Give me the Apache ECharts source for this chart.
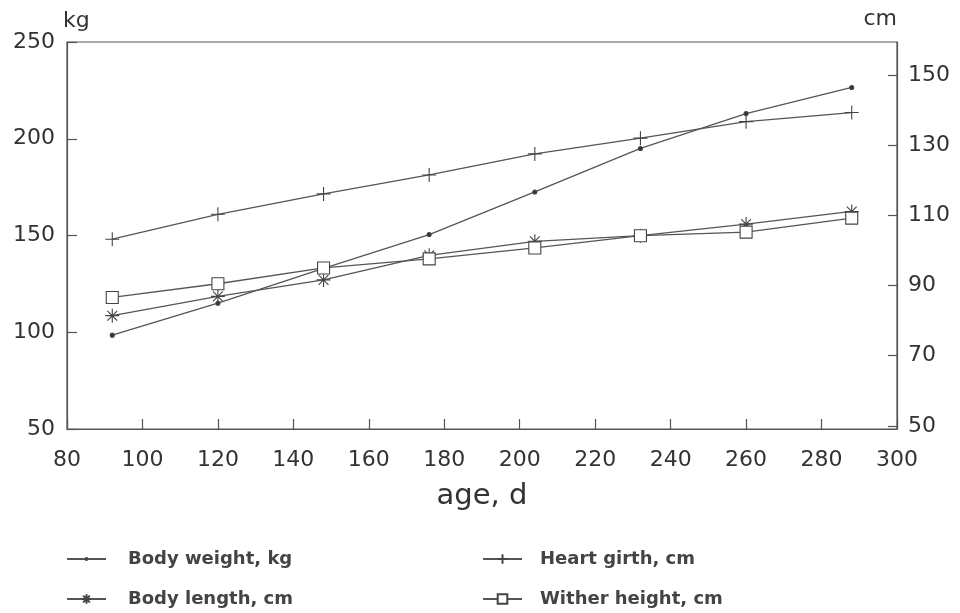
<!DOCTYPE html>
<html>
<head>
<meta charset="utf-8">
<script src="https://cdn.jsdelivr.net/npm/echarts@6/dist/echarts.min.js"></script>
<style>
html,body{margin:0;padding:0;background:#fff;}
#chart{width:960px;height:613px;}
</style>
</head>
<body>
<div id="chart"></div>
<script>
// ---- data ----
var ageDays = [92, 120, 148, 176, 204, 232, 260, 288];
var bodyWeightKg = [98.5, 115, 133, 150.5, 172.5, 195, 213, 226.5];
var heartGirthCm = [103.2, 110.3, 116.1, 121.5, 127.5, 132, 136.7, 139.3];
var bodyLengthCm = [81.4, 86.9, 91.6, 98.6, 102.6, 104.2, 107.5, 111.1];
var witherHeightCm = [86.6, 90.5, 95, 97.6, 100.7, 104.2, 105.2, 109.2];
var cmTicks = [50, 70, 90, 110, 130, 150];
var seriesNames = ['Body weight, kg', 'Heart girth, cm', 'Body length, cm', 'Wither height, cm'];

function pairs(xs, ys) { return xs.map(function (x, i) { return [x, ys[i]]; }); }

var LINE = '#555';
var TXT = '#333';
var FONT = 'DejaVu Sans';

// small dot inside a larger (invisible) bounding box so the legend dot stays small
var dotPath = 'path://M0,0M20,20M10,8A2,2,0,1,1,10,12A2,2,0,1,1,10,8Z';
var plusPath = 'path://M5,0L5,10M0,5L10,5';
var starPath = 'path://M5,0L5,10M0,5L10,5M1.5,1.5L8.5,8.5M8.5,1.5L1.5,8.5';

function lineSeries(name, data, yIdx, symbol, size, fill) {
  return {
    name: name, type: 'line', data: data, yAxisIndex: yIdx,
    symbol: symbol, symbolSize: size, symbolKeepAspect: true,
    showAllSymbol: true,
    lineStyle: { color: LINE, width: 1.3 },
    itemStyle: { color: fill, borderColor: '#444', borderWidth: 1.1 },
    emphasis: { disabled: true },
    animation: false, z: 3
  };
}

function oneLegend(name, left, top, textPad) {
  return {
    data: [name], orient: 'horizontal', left: left, top: top, padding: 0,
    itemWidth: 39, itemHeight: 12,
    textStyle: { fontFamily: FONT, fontSize: 18, fontWeight: 'bold', color: '#444', padding: [0, 0, 0, textPad] },
    selectedMode: false
  };
}

var chart = echarts.init(document.getElementById('chart'));
chart.setOption({
  backgroundColor: '#fff',
  animation: false,
  grid: { left: 67, right: 63, top: 42, bottom: 184, show: true, borderColor: LINE, borderWidth: 1.2, containLabel: false },
  legend: [
    oneLegend(seriesNames[0], 66, 550, 17),
    oneLegend(seriesNames[2], 66, 590, 17),
    oneLegend(seriesNames[1], 482, 550, 13),
    oneLegend(seriesNames[3], 482, 590, 13)
  ],
  xAxis: {
    type: 'value', min: 80, max: 300, interval: 20,
    name: 'age, d', nameLocation: 'middle', nameGap: 53,
    nameTextStyle: { fontFamily: FONT, fontSize: 29, color: TXT },
    axisLine: { show: true, lineStyle: { color: LINE, width: 1.2 } },
    axisTick: { show: true, inside: true, length: 10, lineStyle: { color: LINE, width: 1.2 } },
    axisLabel: { margin: 20, fontFamily: FONT, fontSize: 22, color: TXT },
    splitLine: { show: false }
  },
  yAxis: [
    {
      type: 'value', min: 50, max: 250, interval: 50, position: 'left',
      name: 'kg', nameLocation: 'end', nameGap: 10,
      nameTextStyle: { fontFamily: FONT, fontSize: 22, color: TXT, align: 'left', verticalAlign: 'bottom', padding: [0, 0, 0, -4] },
      axisLine: { show: true, lineStyle: { color: LINE, width: 1.2 } },
      axisTick: { show: true, inside: true, length: 10, lineStyle: { color: LINE, width: 1.2 } },
      axisLabel: { margin: 12, fontFamily: FONT, fontSize: 22, color: TXT },
      splitLine: { show: false }
    },
    {
      type: 'value', min: 49.1, max: 159.4, position: 'right',
      name: 'cm', nameLocation: 'end', nameGap: 12,
      nameTextStyle: { fontFamily: FONT, fontSize: 22, color: TXT, align: 'right', verticalAlign: 'bottom', padding: [0, 0, 0, 0] },
      axisLine: { show: true, lineStyle: { color: LINE, width: 1.2 } },
      axisTick: { show: true, inside: true, length: 9, customValues: cmTicks, lineStyle: { color: LINE, width: 1.2 } },
      axisLabel: { margin: 11, fontFamily: FONT, fontSize: 22, color: TXT, customValues: cmTicks },
      splitLine: { show: false }
    }
  ],
  series: [
    lineSeries(seriesNames[0], pairs(ageDays, bodyWeightKg), 0, dotPath, 20, '#333'),
    lineSeries(seriesNames[1], pairs(ageDays, heartGirthCm), 1, plusPath, 14, 'none'),
    lineSeries(seriesNames[2], pairs(ageDays, bodyLengthCm), 1, starPath, 14, 'none'),
    lineSeries(seriesNames[3], pairs(ageDays, witherHeightCm), 1, 'rect', 12, '#fff')
  ]
});
</script>
</body>
</html>
